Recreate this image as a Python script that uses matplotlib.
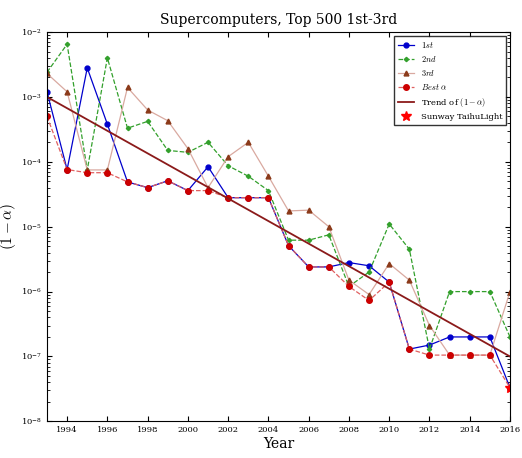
import numpy as np
import matplotlib
matplotlib.use('Agg')
import matplotlib.pyplot as plt

plt.rcParams['font.family'] = 'DejaVu Serif'
plt.rcParams['mathtext.fontset'] = 'cm'
plt.rcParams['xtick.direction'] = 'in'
plt.rcParams['ytick.direction'] = 'in'

years = np.arange(1993, 2017)
first = [1.2e-3, 7.6e-5, 2.8e-3, 3.8e-4, 4.9e-5, 4.0e-5, 5.1e-5, 3.6e-5, 8.4e-5, 2.8e-5, 2.8e-5, 2.8e-5,
         5.1e-6, 2.4e-6, 2.4e-6, 2.8e-6, 2.5e-6, 1.4e-6, 1.3e-7, 1.5e-7, 2.0e-7, 2.0e-7, 2.0e-7, 3.3e-8]
second = [2.4e-3, 6.5e-3, 7.5e-5, 4.0e-3, 3.3e-4, 4.2e-4, 1.5e-4, 1.4e-4, 2.0e-4, 8.7e-5, 6.0e-5, 3.6e-5,
          6.2e-6, 6.2e-6, 7.5e-6, 1.2e-6, 2.0e-6, 1.1e-5, 4.5e-6, 1.3e-7, 1.0e-6, 1.0e-6, 1.0e-6, 2.0e-7]
third = [2.3e-3, 1.2e-3, 7.5e-5, 7.5e-5, 1.4e-3, 6.3e-4, 4.3e-4, 1.6e-4, 4.0e-5, 1.2e-4, 2.0e-4, 6.0e-5,
         1.75e-5, 1.8e-5, 1.0e-5, 1.5e-6, 9.0e-7, 2.7e-6, 1.5e-6, 3.0e-7, 1.05e-7, 1.05e-7, 1.05e-7, 1.0e-6]
best = [5.0e-4, 7.6e-5, 6.8e-5, 6.8e-5, 4.9e-5, 4.0e-5, 5.1e-5, 3.6e-5, 3.6e-5, 2.8e-5, 2.8e-5, 2.8e-5,
        5.1e-6, 2.4e-6, 2.4e-6, 1.2e-6, 7.3e-7, 1.4e-6, 1.3e-7, 1.05e-7, 1.05e-7, 1.05e-7, 1.05e-7, 3.3e-8]
trend_years = [1993, 2016]
trend_vals = [1.0e-3, 1.0e-7]
sunway_year = 2016
sunway_val = 3.3e-8

fig, ax = plt.subplots(figsize=(5.22, 4.58), dpi=100)
ax.semilogy(years, first, '-', color='#0000cc', marker='o', ms=3.5, lw=0.9, label='$1st$')
ax.semilogy(years, second, '--', color='#33a02c', marker='D', ms=2.2, lw=0.9, label='$2nd$')
ax.semilogy(years, third, '-', color='#d9a9a0', marker='^', ms=3.5, mfc='#8b3a1a', mec='#8b3a1a', lw=0.9, label='$3rd$')
ax.semilogy(years, best, '--', color='#e06060', marker='o', ms=4, mfc='#cc0000', mec='#cc0000', lw=0.9, label=r'$Best\ \alpha$')
ax.semilogy(trend_years, trend_vals, '-', color='#8b1a1a', lw=1.3, label=r'Trend of $(1-\alpha)$')
ax.semilogy([sunway_year], [sunway_val], '*', color='red', ms=7, label='Sunway TaihuLight')

ax.set_xlim(1993, 2016)
ax.set_ylim(1e-8, 1e-2)
ax.set_xticks(range(1994, 2017, 2))
ax.tick_params(labelsize=6, which='both', top=True, right=True)
ax.set_title('Supercomputers, Top 500 1st-3rd', fontsize=10)
ax.set_xlabel('Year', fontsize=10, labelpad=2)
ax.set_ylabel(r'$(1-\alpha)$', fontsize=11, labelpad=2)
ax.legend(loc='upper right', fontsize=6, frameon=True, fancybox=False, edgecolor='black')
plt.subplots_adjust(left=0.09, right=0.977, top=0.93, bottom=0.08)
fig.savefig('out.png', dpi=100)
